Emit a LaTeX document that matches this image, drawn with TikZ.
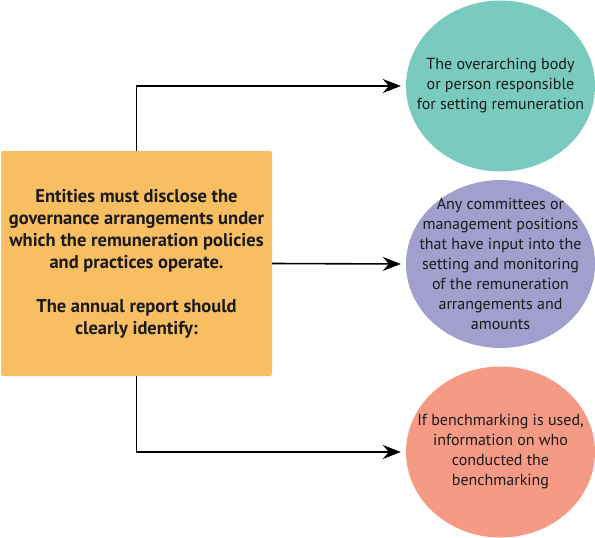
\documentclass[tikz,border=0pt]{standalone}
\usepackage{fontspec}
\setmainfont{PT Sans}
\usetikzlibrary{arrows.meta,shapes.geometric}
\definecolor{boxorange}{HTML}{F8BE62}
\definecolor{bubteal}{HTML}{7ACBBF}
\definecolor{bubpurple}{HTML}{A09FCD}
\definecolor{bubsalmon}{HTML}{F59A84}
\definecolor{txtdark}{HTML}{1A1A1A}
\tikzset{
  mainbox/.style={rectangle, rounded corners=2pt, fill=boxorange, draw=none,
    minimum width=271pt, minimum height=225pt, inner sep=0pt},
  bubble/.style={ellipse, draw=none, minimum width=189pt, minimum height=171pt, inner sep=0pt},
  bubtext/.style={align=center, font=\fontsize{16}{20}\selectfont, text=txtdark},
  maintext/.style={align=center, font=\bfseries\fontsize{18.5}{22}\selectfont, text=txtdark},
  conn/.style={line width=1.6pt, -{Stealth[length=18pt,width=14pt,inset=6pt]}, shorten >=5pt}
}
\begin{document}
\begin{tikzpicture}[x=1pt,y=-1pt]
\useasboundingbox (0,0) rectangle (595,538);
\node[mainbox] (main) at (136.5,263.5) {};
\node[maintext] (maintxt) at (main.center) {Entities must disclose the\\governance arrangements under\\which the remuneration policies\\and practices operate.\\[22pt]The annual report should\\clearly identify:};
\node[bubble, fill=bubteal] (top) at (500.5,86) {};
\node[bubble, fill=bubpurple, minimum height=168pt] (mid) at (500.5,264) {};
\node[bubble, fill=bubsalmon] (bot) at (500.5,452) {};
\node[bubtext] (toptxt) at (top.center) {The overarching body\\or person responsible\\for setting remuneration};
\node[bubtext] (midtxt) at (mid.center) {Any committees or\\management positions\\that have input into the\\setting and monitoring\\of the remuneration\\arrangements and\\amounts};
\node[bubtext] (bottxt) at (bot.center) {If benchmarking is used,\\information on who\\conducted the\\benchmarking};
\draw[conn] (main.north) |- (top.west);
\draw[conn] (main.east) -- (mid.west);
\draw[conn] (main.south) |- (bot.west);
\end{tikzpicture}
\end{document}
